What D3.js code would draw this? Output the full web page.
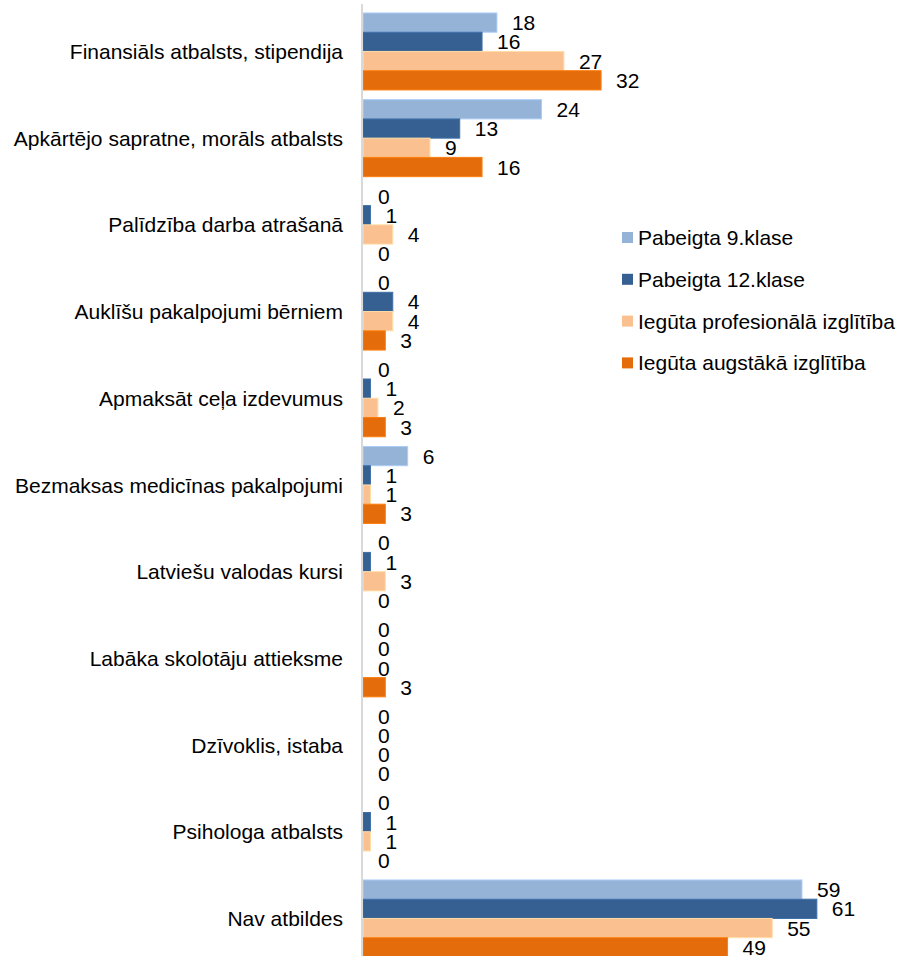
<!DOCTYPE html>
<meta charset="utf-8">
<head>
    <script src="https://d3js.org/d3.v7.min.js"></script>
    <style>
        body {
            margin: 0px;
            padding: 0px;
            background: #ffffff;
        }

        #chart text {
            font-family: 'Liberation Sans', Arial, sans-serif;
            fill: #000000;
        }
    </style>
    <title>Atbalsts</title>
</head>

<body>
    <div id="chart"></div>

    <script>
        // categories, top to bottom
        var categories = ["Finansiāls atbalsts, stipendija",
                          "Apkārtējo sapratne, morāls atbalsts",
                          "Palīdzība darba atrašanā",
                          "Auklīšu pakalpojumi bērniem",
                          "Apmaksāt ceļa izdevumus",
                          "Bezmaksas medicīnas pakalpojumi",
                          "Latviešu valodas kursi",
                          "Labāka skolotāju attieksme",
                          "Dzīvoklis, istaba",
                          "Psihologa atbalsts",
                          "Nav atbildes"];

        var seriesNames = ["Pabeigta 9.klase",
                           "Pabeigta 12.klase",
                           "Iegūta profesionālā izglītība",
                           "Iegūta augstākā izglītība"];

        var klase9 = [18, 24, 0, 0, 0, 6, 0, 0, 0, 0, 59];
        var klase12 = [16, 13, 1, 4, 1, 1, 1, 0, 0, 1, 61];
        var profesionala = [27, 9, 4, 4, 2, 1, 3, 0, 0, 1, 55];
        var augstaka = [32, 16, 0, 3, 3, 3, 0, 3, 0, 0, 49];

        var seriesValues = [klase9, klase12, profesionala, augstaka];
        var colors = ["#95b3d7", "#366092", "#fac090", "#e46c0a"];

        var width = 901,
            height = 956;

        var svg = d3.select("#chart").append("svg")
            .attr("width", width)
            .attr("height", height);

        //scales
        var x = d3.scaleLinear()
            .domain([0, 70])
            .range([363, 363 + 70 * 7.44]);

        var y0 = d3.scaleBand()
            .domain(categories)
            .range([8.1, 961.8])
            .paddingInner(0.112)
            .paddingOuter(0.056);

        var y1 = d3.scaleBand()
            .domain(d3.range(seriesNames.length))
            .range([0, y0.bandwidth()]);

        //one group per category
        var groups = svg.selectAll("g.cat")
            .data(categories)
            .enter().append("g")
            .attr("class", "cat")
            .attr("transform", function (d) {
                return "translate(0," + y0(d) + ")";
            });

        groups.each(function (cat, ci) {
            var g = d3.select(this);
            seriesValues.forEach(function (vals, si) {
                var v = vals[ci];
                if (v > 0) {
                    g.append("rect")
                        .attr("x", x(0))
                        .attr("y", y1(si))
                        .attr("width", x(v) - x(0))
                        .attr("height", y1.bandwidth())
                        .style("fill", colors[si])
                        .style("stroke", d3.color(colors[si]).brighter(0.4))
                        .style("stroke-width", 1);
                }
                g.append("text")
                    .attr("x", x(v) + 15)
                    .attr("y", y1(si) + y1.bandwidth() / 2)
                    .attr("dy", "0.36em")
                    .style("font-size", "21px")
                    .text(v);
            });
        });

        //category labels
        svg.append("g").selectAll("text")
            .data(categories)
            .enter().append("text")
            .attr("x", x(0) - 20)
            .attr("y", function (d) {
                return y0(d) + y0.bandwidth() / 2;
            })
            .attr("dy", "0.36em")
            .attr("text-anchor", "end")
            .style("font-size", "21px")
            .text(function (d) { return d; });

        //vertical axis line
        svg.append("line")
            .attr("x1", x(0) - 1)
            .attr("x2", x(0) - 1)
            .attr("y1", 4)
            .attr("y2", height)
            .style("stroke", "#d9d9d9")
            .style("stroke-width", 2);

        //legend
        var legend = svg.append("g").selectAll("g")
            .data(seriesNames)
            .enter().append("g")
            .attr("transform", function (d, i) {
                return "translate(622," + (237.5 + i * 41.8) + ")";
            });

        legend.append("rect")
            .attr("x", 0)
            .attr("y", -5.5)
            .attr("width", 11)
            .attr("height", 11)
            .style("fill", function (d, i) { return colors[i]; });

        legend.append("text")
            .attr("x", 16)
            .attr("y", 0)
            .attr("dy", "0.36em")
            .style("font-size", "21px")
            .text(function (d) { return d; });
    </script>
</body>
